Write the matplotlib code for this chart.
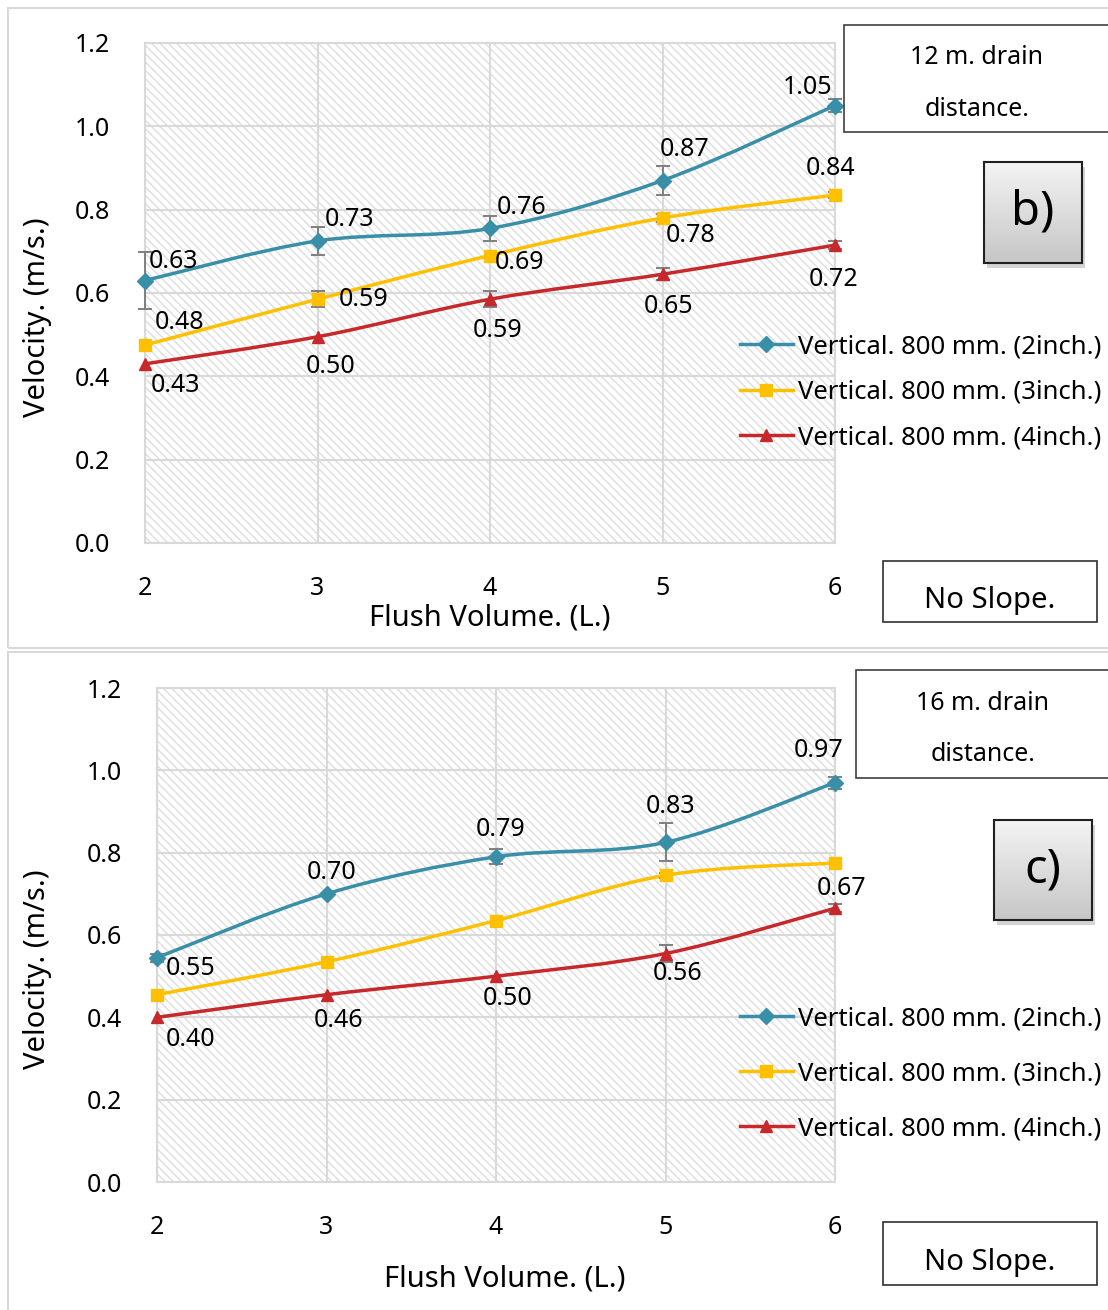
import numpy as np
import matplotlib
matplotlib.use('Agg')
import matplotlib.pyplot as plt
from matplotlib.path import Path
from matplotlib.patches import PathPatch, Rectangle

plt.rcParams['font.family'] = ['Noto Sans', 'DejaVu Sans']
plt.rcParams['hatch.linewidth'] = 1.0

W, H = 1108, 1310

# Flush volume (L.) and velocity (m/s.)
volume = [2, 3, 4, 5, 6]
series_names = ['Vertical. 800 mm. (2inch.)',
                'Vertical. 800 mm. (3inch.)',
                'Vertical. 800 mm. (4inch.)']

# 12 m. drain distance
v12_2in = [0.63, 0.725, 0.755, 0.87, 1.05]
v12_3in = [0.475, 0.585, 0.69, 0.78, 0.835]
v12_4in = [0.43, 0.495, 0.585, 0.645, 0.715]
err12_2in = [0.068, 0.034, 0.029, 0.035, 0.015]
err12_3in = [0.0, 0.019, 0.0, 0.01, 0.008]
err12_4in = [0.0, 0.0, 0.019, 0.014, 0.01]

# 16 m. drain distance
v16_2in = [0.545, 0.70, 0.79, 0.825, 0.97]
v16_3in = [0.455, 0.535, 0.635, 0.745, 0.775]
v16_4in = [0.40, 0.455, 0.50, 0.555, 0.665]
err16_2in = [0.01, 0.0, 0.018, 0.046, 0.015]
err16_3in = [0.0, 0.0, 0.0, 0.006, 0.0]
err16_4in = [0.0, 0.0, 0.0, 0.02, 0.01]

# label texts per point (None = no label)
lab12 = [['0.63', '0.73', '0.76', '0.87', '1.05'],
         ['0.48', '0.59', '0.69', '0.78', '0.84'],
         ['0.43', '0.50', '0.59', '0.65', '0.72']]
lab16 = [['0.55', '0.70', '0.79', '0.83', '0.97'],
         [None, None, None, None, None],
         ['0.40', '0.46', '0.50', '0.56', '0.67']]

# label offsets in pixels (dx right, dy down)
off12 = [[(28, -19), (32, -21), (32, -21), (22, -31), (-27, -18)],
         [(35, -23), (46, 0), (30, 7), (28, 18), (-4, -27)],
         [(30, 22), (13, 30), (8, 31), (6, 32), (-1, 34)]]
off16 = [[(34, 11), (5, -21), (5, -27), (5, -36), (-16, -32)],
         [None] * 5,
         [(34, 22), (12, 26), (12, 22), (12, 20), (7, -20)]]

colors = ['#3a8fa8', '#ffc000', '#c6282b']
markers = ['D', 's', '^']
msizes = [8, 9, 9]


def fx(px):
    return px / W


def fy(py):
    return 1 - py / H


def smooth_path(xs, ys):
    # Catmull-Rom style bezier through the points
    pts = np.column_stack([xs, ys]).astype(float)
    n = len(pts)
    verts = [pts[0]]
    codes = [Path.MOVETO]
    for i in range(n - 1):
        p0 = pts[max(i - 1, 0)]
        p1 = pts[i]
        p2 = pts[i + 1]
        p3 = pts[min(i + 2, n - 1)]
        c1 = p1 + (p2 - p0) / 6
        c2 = p2 - (p3 - p1) / 6
        verts += [c1, c2, p2]
        codes += [Path.CURVE4] * 3
    return Path(verts, codes)


def draw_panel(fig, box, data, errs, labels, offsets, ylab_xy, xlab_xy):
    left, top, right, bottom = box
    ax = fig.add_axes([fx(left), fy(bottom), fx(right) - fx(left), fy(top) - fy(bottom)])
    ax.set_xlim(2, 6)
    ax.set_ylim(0, 1.2)
    ax.add_patch(Rectangle((0, 0), 1, 1, transform=ax.transAxes, facecolor='white',
                           edgecolor='#dedede', lw=0, hatch='\\\\\\\\', zorder=0))
    ax.set_xticks(volume)
    ax.set_yticks(np.arange(0, 1.21, 0.2))
    ax.set_yticklabels([f'{v:.1f}' for v in np.arange(0, 1.21, 0.2)])
    ax.grid(True, color='#d9d9d9', lw=1.5, zorder=1)
    ax.set_axisbelow(True)
    for s in ax.spines.values():
        s.set_color('#d9d9d9')
        s.set_linewidth(1.5)
    ax.tick_params(length=0, labelsize=18, pad=24)
    ax.tick_params(axis='y', pad=25)
    ax.set_ylabel('Velocity. (m/s.)', fontsize=21)
    ax.set_xlabel('Flush Volume. (L.)', fontsize=21)
    ax.yaxis.set_label_coords(*ylab_xy)
    ax.xaxis.set_label_coords(*xlab_xy)

    handles = []
    for k in range(3):
        ys = data[k]
        ax.add_patch(PathPatch(smooth_path(volume, ys), facecolor='none',
                               edgecolor=colors[k], lw=2.5, zorder=3, clip_on=False))
        e = np.array(errs[k])
        has = e > 0
        ax.errorbar(np.array(volume)[has], np.array(ys)[has], yerr=e[has], fmt='none',
                    ecolor='#7f7f7f', elinewidth=1.4, capsize=5, capthick=1.4,
                    zorder=4, clip_on=False)
        ax.plot(volume, ys, ls='none', color=colors[k], marker=markers[k],
                ms=msizes[k], zorder=5, clip_on=False)
        handles.append(plt.Line2D([], [], color=colors[k], lw=2.5,
                                  marker=markers[k], ms=msizes[k]))
        for i, t in enumerate(labels[k]):
            if t is None:
                continue
            dx, dy = offsets[k][i]
            ax.annotate(t, (volume[i], ys[i]), xytext=(dx, -dy),
                        textcoords='offset pixels', ha='center', va='center',
                        fontsize=18, zorder=6)
    return ax, handles


fig = plt.figure(figsize=(W / 100, H / 100), dpi=100)

# outer chart-area borders
fig.add_artist(Rectangle((fx(8), fy(648)), fx(1200) - fx(8), fy(8) - fy(648),
                         transform=fig.transFigure, facecolor='none',
                         edgecolor='#d9d9d9', lw=1.5))
fig.add_artist(Rectangle((fx(8), fy(1320)), fx(1200) - fx(8), fy(652) - fy(1320),
                         transform=fig.transFigure, facecolor='none',
                         edgecolor='#d9d9d9', lw=1.5))

panels = [
    dict(box=(145, 43, 835, 543), data=[v12_2in, v12_3in, v12_4in],
         errs=[err12_2in, err12_3in, err12_4in], labels=lab12, offsets=off12,
         ylab_xy=(-0.135, 0.452), xlab_xy=(0.5, -0.12),
         legend_y=334, legend_gap=0.8,
         dist='12 m. drain\ndistance.', dist_box=(844, 25, 1115, 132), dist_x=977,
         tag='b)', tag_box=(984, 162, 1082, 263), slope_box=(883, 561, 1097, 622)),
    dict(box=(157, 688, 835, 1182), data=[v16_2in, v16_3in, v16_4in],
         errs=[err16_2in, err16_3in, err16_4in], labels=lab16, offsets=off16,
         ylab_xy=(-0.155, 0.431), xlab_xy=(0.513, -0.166),
         legend_y=1006, legend_gap=1.17,
         dist='16 m. drain\ndistance.', dist_box=(856, 670, 1115, 778), dist_x=983,
         tag='c)', tag_box=(994, 820, 1092, 920), slope_box=(883, 1222, 1097, 1285)),
]

for p in panels:
    ax, handles = draw_panel(fig, p['box'], p['data'], p['errs'], p['labels'],
                             p['offsets'], p['ylab_xy'], p['xlab_xy'])
    fig.legend(handles, series_names, loc='upper left',
               bbox_to_anchor=(fx(740), fy(p['legend_y'])), frameon=False,
               fontsize=18.5, handlelength=2.05, handletextpad=0.2,
               labelspacing=p['legend_gap'], borderaxespad=0, borderpad=0)

    l, t, r, b = p['dist_box']
    fig.add_artist(Rectangle((fx(l), fy(b)), fx(r) - fx(l), fy(t) - fy(b),
                             transform=fig.transFigure, facecolor='white',
                             edgecolor='#404040', lw=1.2))
    fig.text(fx(p['dist_x']), fy((t + b) / 2 + 5), p['dist'], ha='center',
             va='center', fontsize=18, linespacing=2.4)

    l, t, r, b = p['slope_box']
    fig.add_artist(Rectangle((fx(l), fy(b)), fx(r) - fx(l), fy(t) - fy(b),
                             transform=fig.transFigure, facecolor='white',
                             edgecolor='#303030', lw=1.2))
    fig.text(fx((l + r) / 2), fy((t + b) / 2 + 9), 'No Slope.', ha='center',
             va='center', fontsize=21)

    # gradient tag box with drop shadow
    l, t, r, b = p['tag_box']
    fig.add_artist(Rectangle((fx(l + 3), fy(b + 5)), fx(r) - fx(l), fy(t) - fy(b),
                             transform=fig.transFigure, facecolor='#b8b8b8',
                             edgecolor='none', alpha=0.6, zorder=-1))
    tag_ax = fig.add_axes([fx(l), fy(b), fx(r) - fx(l), fy(t) - fy(b)])
    tag_ax.set_zorder(5)
    grad = np.linspace(0, 1, 100).reshape(-1, 1)
    tag_ax.imshow(grad, cmap=matplotlib.colors.LinearSegmentedColormap.from_list(
        'g', ['#f4f4f4', '#c6c6c6']), aspect='auto', extent=(0, 1, 0, 1), origin='upper')
    tag_ax.set_xticks([])
    tag_ax.set_yticks([])
    for s in tag_ax.spines.values():
        s.set_color('#202020')
        s.set_linewidth(1.5)
    tag_ax.text(0.5, 0.5, p['tag'], ha='center', va='center', fontsize=34,
                transform=tag_ax.transAxes)

fig.savefig('out.png', dpi=100)
